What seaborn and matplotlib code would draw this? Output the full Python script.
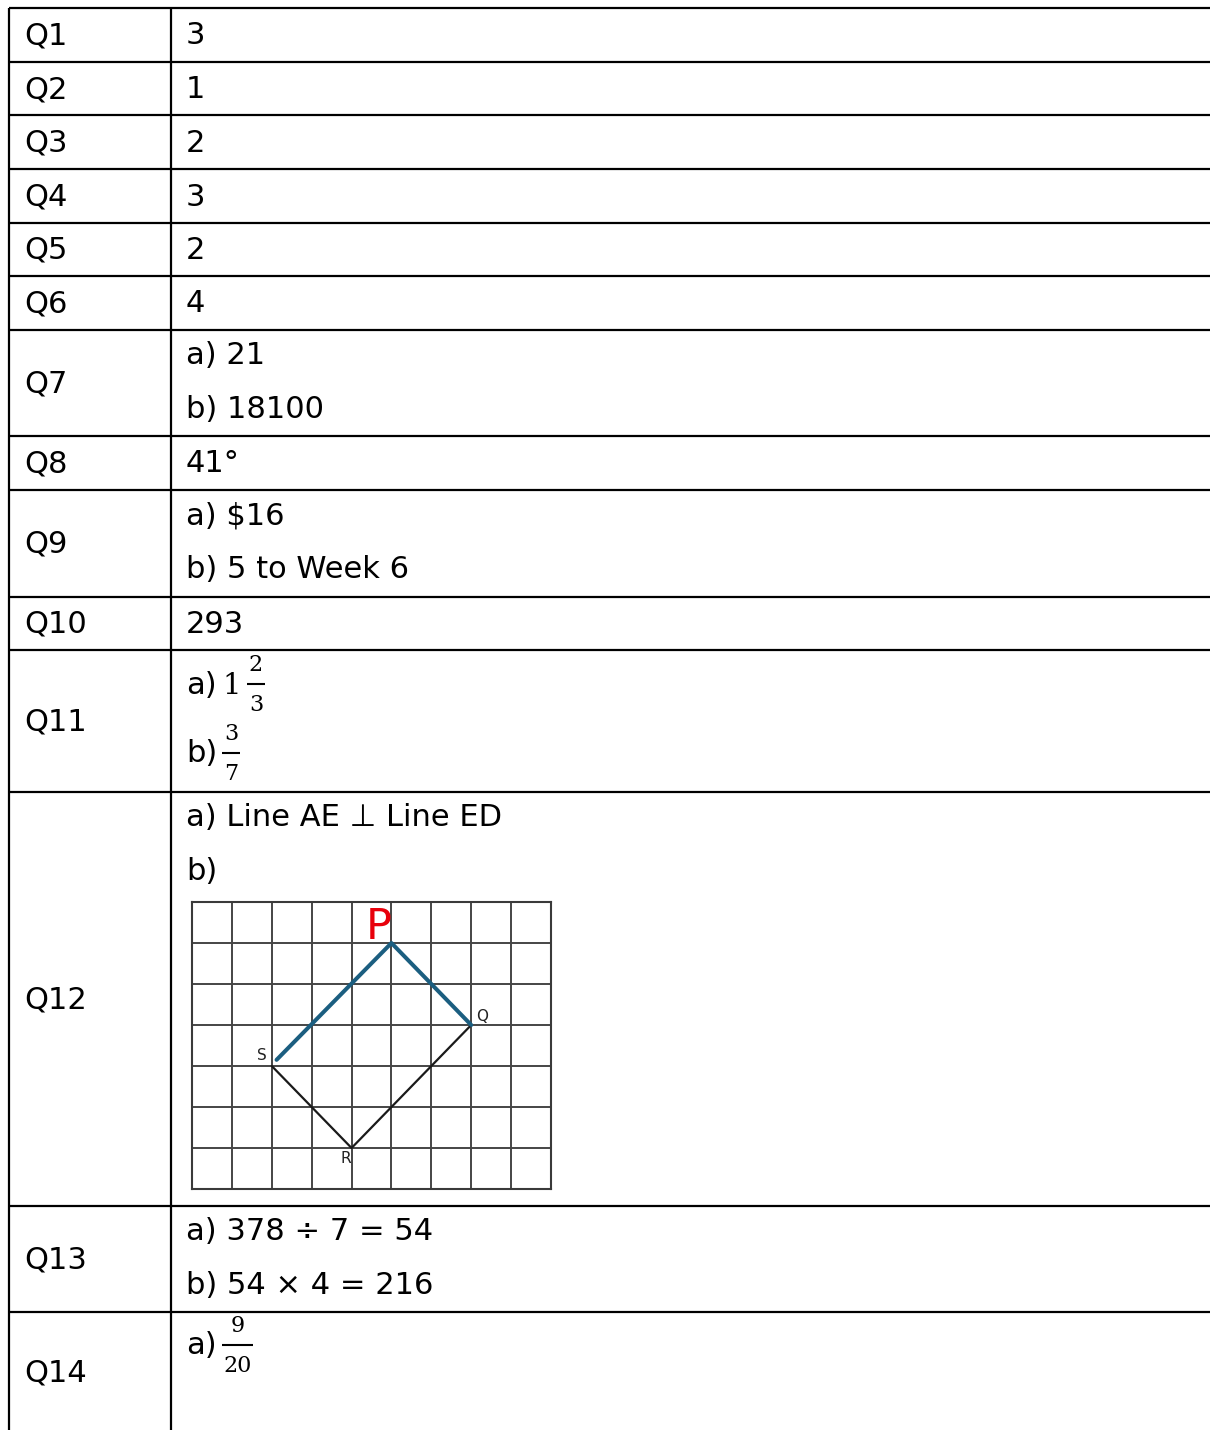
import matplotlib
matplotlib.use("Agg")
import matplotlib.pyplot as plt
import seaborn as sns
import pandas as pd

sns.set_theme(style="white")
plt.rcParams['font.family'] = ['DejaVu Sans']
plt.rcParams['text.color'] = 'black'

# table content
questions = ["Q1", "Q2", "Q3", "Q4", "Q5", "Q6", "Q7", "Q8", "Q9", "Q10",
             "Q11", "Q12", "Q13", "Q14"]
answers = [
    ["3"], ["1"], ["2"], ["3"], ["2"], ["4"],
    ["a) 21", "b) 18100"],
    ["41°"],
    ["a) $16", "b) 5 to Week 6"],
    ["293"],
    [],
    ["a) Line AE \u22a5 Line ED", "b)"],
    ["a) 378 \u00f7 7 = 54", "b) 54 \u00d7 4 = 216"],
    [],
]
# fraction answers: (label, whole part, numerator, denominator)
fraction_answers = {
    "Q11": [("a)", "1", "2", "3"), ("b)", "", "3", "7")],
    "Q14": [("a)", "", "9", "20")],
}

# Q12 b) sketch on a 9 x 7 grid (grid units, y counted from top)
grid_cols = 9
grid_rows = 7
shape_x = [2, 4, 7]          # S -> R -> Q (given)
shape_y = [4, 6, 3]
drawn_x = [2.12, 5, 7]       # S -> P -> Q (answer)
drawn_y = [3.85, 1, 3]
point_names = ["S", "R", "Q"]
point_lab_x = [1.75, 3.85, 7.28]
point_lab_y = [3.75, 6.25, 2.8]

# layout (pixels)
W, H = 1210, 1430
row_edges = [8, 62, 115, 169, 223, 276, 330, 436, 490, 597, 650, 792,
             1206, 1312, 1432]
col_edges = [9, 171]
two_line_offsets = [26, 79]
frac_offsets = {"Q11": [34, 103], "Q14": [33]}

fig = plt.figure(figsize=(W / 100, H / 100), dpi=100)
ax = fig.add_axes([0, 0, 1, 1])
ax.set_xlim(0, W)
ax.set_ylim(H, 0)
ax.axis("off")

lw = 1.6
for y in row_edges[:-1]:
    ax.plot([col_edges[0], W + 5], [y, y], color="black", lw=lw,
            solid_capstyle="butt")
for x in col_edges:
    ax.plot([x, x], [row_edges[0], H + 5], color="black", lw=lw,
            solid_capstyle="butt")

fs = 22
tx = 186
serif = ["DejaVu Serif"]


def draw_fraction(y, label, whole, num, den):
    ax.text(tx, y + 1, label, fontsize=fs, va="center", ha="left")
    x = 222
    if whole:
        ax.text(x, y + 2, whole, fontsize=21, va="center", ha="left",
                family=serif)
        x = 247
    wd = 18 if max(len(num), len(den)) == 1 else 31
    ax.plot([x, x + wd], [y, y], color="black", lw=1.5,
            solid_capstyle="butt")
    ax.text(x + wd / 2, y - 19, num, fontsize=16, ha="center",
            va="center", family=serif)
    ax.text(x + wd / 2, y + 21, den, fontsize=16, ha="center",
            va="center", family=serif)


for i, (q, ans) in enumerate(zip(questions, answers)):
    top, bot = row_edges[i], row_edges[i + 1]
    ax.text(24, (top + bot) / 2 + 1, q, fontsize=fs, va="center", ha="left")
    if q in fraction_answers:
        for parts, off in zip(fraction_answers[q], frac_offsets[q]):
            draw_fraction(top + off, *parts)
        continue
    if len(ans) == 1:
        ys = [(top + bot) / 2 + 1]
    else:
        ys = [top + o for o in two_line_offsets]
    for txt, y in zip(ans, ys):
        ax.text(tx, y, txt, fontsize=fs, va="center", ha="left")

# grid sketch inset
gx0, gx1, gy0, gy1 = 192, 551, 902, 1189
gax = fig.add_axes([gx0 / W, 1 - gy1 / H, (gx1 - gx0) / W, (gy1 - gy0) / H])
gax.set_xlim(0, grid_cols)
gax.set_ylim(grid_rows, 0)
gax.set_xticks([])
gax.set_yticks([])
for s in gax.spines.values():
    s.set_color("#3a3a3a")
    s.set_linewidth(1.5)
for c in range(1, grid_cols):
    gax.axvline(c, color="#454545", lw=1.4)
for r in range(1, grid_rows):
    gax.axhline(r, color="#454545", lw=1.4)

shape_df = pd.DataFrame({"x": shape_x, "y": shape_y})
drawn_df = pd.DataFrame({"x": drawn_x, "y": drawn_y})
sns.lineplot(data=shape_df, x="x", y="y", sort=False, color="#1a1a1a",
             lw=1.6, ax=gax)
sns.lineplot(data=drawn_df, x="x", y="y", sort=False, color="#1b5e80",
             lw=2.9, ax=gax)
gax.set_xlabel("")
gax.set_ylabel("")
for name, lx, ly in zip(point_names, point_lab_x, point_lab_y):
    gax.text(lx, ly, name, fontsize=11, ha="center", va="center",
             color="#222222")
gax.text(4.69, 0.62, "P", fontsize=31, color="#e8000b", ha="center",
         va="center")

fig.savefig("out.png", dpi=100, facecolor="white")
